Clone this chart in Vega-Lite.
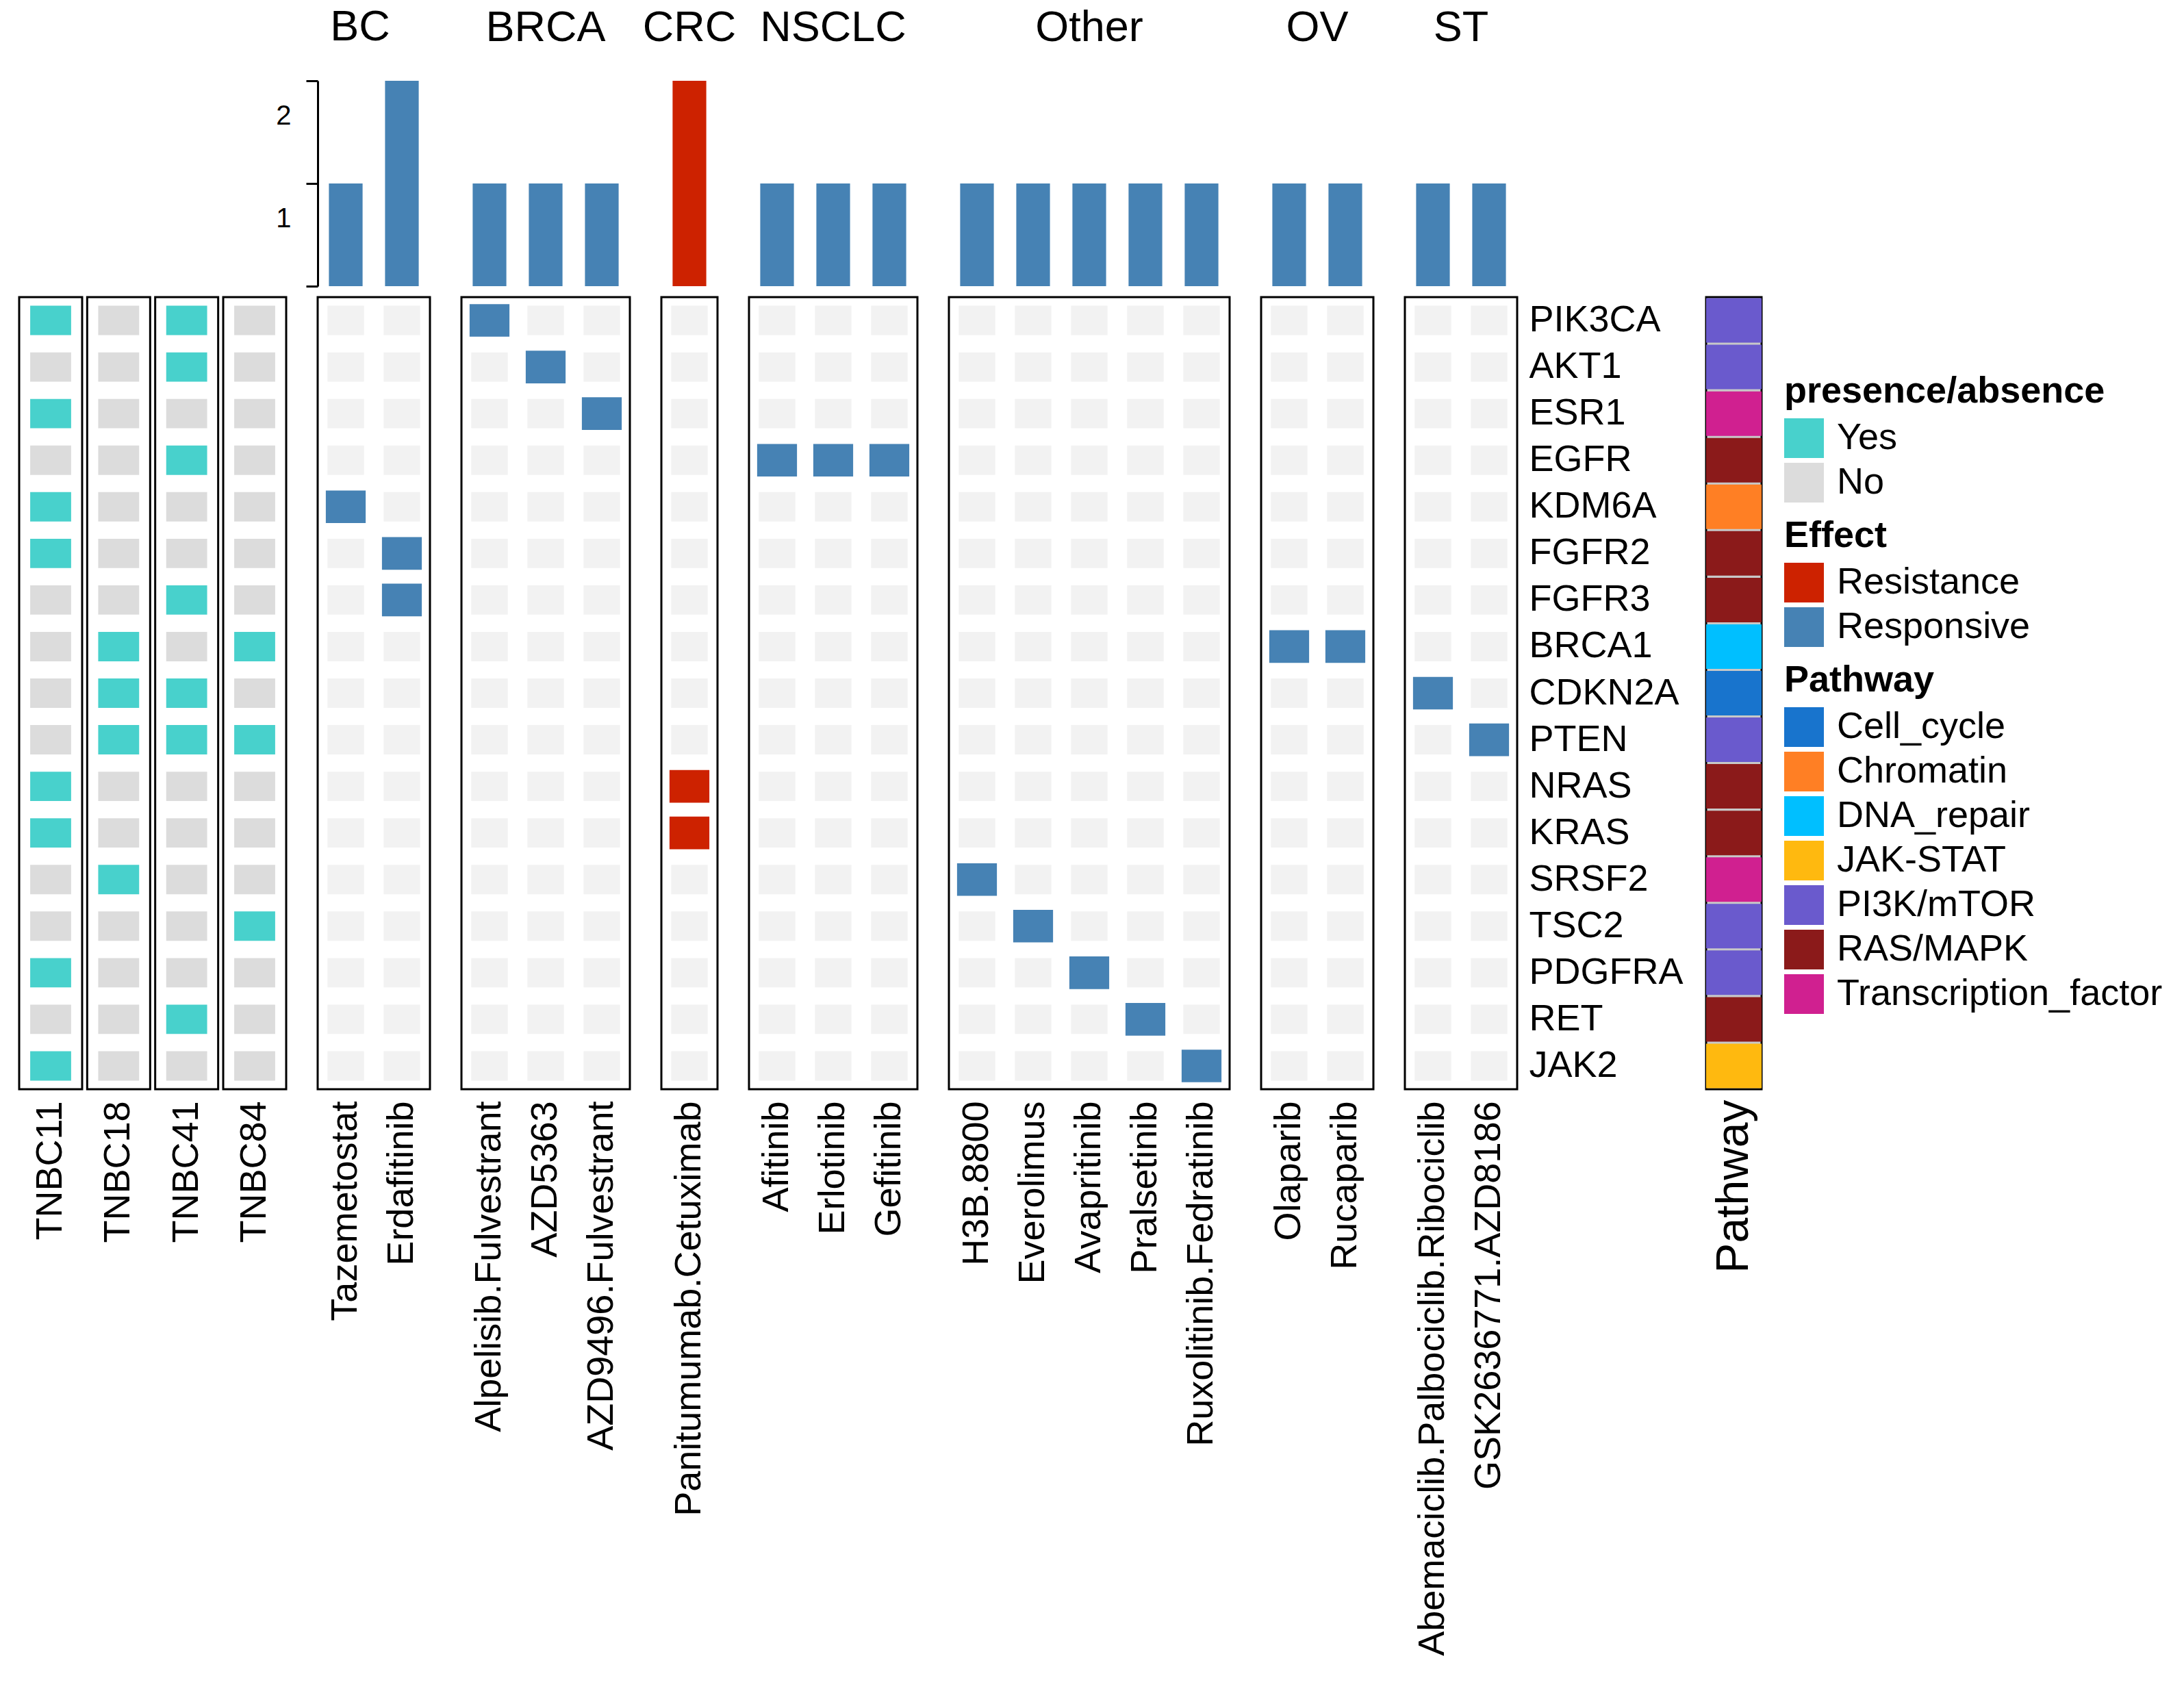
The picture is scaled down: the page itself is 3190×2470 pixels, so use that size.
{
  "$schema": "https://vega.github.io/schema/vega-lite/v6.json",
  "padding": {"left": 26, "top": 8, "right": 5, "bottom": 5},
  "background": "white",
  "datasets": {
    "matrix": [
      {"gene": "PIK3CA", "pathway": "PI3K/mTOR", "TNBC11": "Yes", "TNBC18": "No", "TNBC41": "Yes", "TNBC84": "No", "Alpelisib.Fulvestrant": "Responsive"},
      {"gene": "AKT1", "pathway": "PI3K/mTOR", "TNBC11": "No", "TNBC18": "No", "TNBC41": "Yes", "TNBC84": "No", "AZD5363": "Responsive"},
      {"gene": "ESR1", "pathway": "Transcription_factor", "TNBC11": "Yes", "TNBC18": "No", "TNBC41": "No", "TNBC84": "No", "AZD9496.Fulvestrant": "Responsive"},
      {"gene": "EGFR", "pathway": "RAS/MAPK", "TNBC11": "No", "TNBC18": "No", "TNBC41": "Yes", "TNBC84": "No", "Afitinib": "Responsive", "Erlotinib": "Responsive", "Gefitinib": "Responsive"},
      {"gene": "KDM6A", "pathway": "Chromatin", "TNBC11": "Yes", "TNBC18": "No", "TNBC41": "No", "TNBC84": "No", "Tazemetostat": "Responsive"},
      {"gene": "FGFR2", "pathway": "RAS/MAPK", "TNBC11": "Yes", "TNBC18": "No", "TNBC41": "No", "TNBC84": "No", "Erdafitinib": "Responsive"},
      {"gene": "FGFR3", "pathway": "RAS/MAPK", "TNBC11": "No", "TNBC18": "No", "TNBC41": "Yes", "TNBC84": "No", "Erdafitinib": "Responsive"},
      {"gene": "BRCA1", "pathway": "DNA_repair", "TNBC11": "No", "TNBC18": "Yes", "TNBC41": "No", "TNBC84": "Yes", "Olaparib": "Responsive", "Rucaparib": "Responsive"},
      {"gene": "CDKN2A", "pathway": "Cell_cycle", "TNBC11": "No", "TNBC18": "Yes", "TNBC41": "Yes", "TNBC84": "No", "Abemaciclib.Palbociclib.Ribociclib": "Responsive"},
      {"gene": "PTEN", "pathway": "PI3K/mTOR", "TNBC11": "No", "TNBC18": "Yes", "TNBC41": "Yes", "TNBC84": "Yes", "GSK2636771.AZD8186": "Responsive"},
      {"gene": "NRAS", "pathway": "RAS/MAPK", "TNBC11": "Yes", "TNBC18": "No", "TNBC41": "No", "TNBC84": "No", "Panitumumab.Cetuximab": "Resistance"},
      {"gene": "KRAS", "pathway": "RAS/MAPK", "TNBC11": "Yes", "TNBC18": "No", "TNBC41": "No", "TNBC84": "No", "Panitumumab.Cetuximab": "Resistance"},
      {"gene": "SRSF2", "pathway": "Transcription_factor", "TNBC11": "No", "TNBC18": "Yes", "TNBC41": "No", "TNBC84": "No", "H3B.8800": "Responsive"},
      {"gene": "TSC2", "pathway": "PI3K/mTOR", "TNBC11": "No", "TNBC18": "No", "TNBC41": "No", "TNBC84": "Yes", "Everolimus": "Responsive"},
      {"gene": "PDGFRA", "pathway": "PI3K/mTOR", "TNBC11": "Yes", "TNBC18": "No", "TNBC41": "No", "TNBC84": "No", "Avapritinib": "Responsive"},
      {"gene": "RET", "pathway": "RAS/MAPK", "TNBC11": "No", "TNBC18": "No", "TNBC41": "Yes", "TNBC84": "No", "Pralsetinib": "Responsive"},
      {"gene": "JAK2", "pathway": "JAK-STAT", "TNBC11": "Yes", "TNBC18": "No", "TNBC41": "No", "TNBC84": "No", "Ruxolitinib.Fedratinib": "Responsive"}
    ]
  },
  "columns": 10,
  "spacing": {"row": 16, "column": 46},
  "align": "each",
  "bounds": "flush",
  "resolve": {"scale": {"color": "independent"}},
  "concat": [
    {"width": 1, "height": 1, "view": {"stroke": null}, "data": {"values": []}, "mark": {"type": "point", "opacity": 0}, "encoding": {}},
    {
      "width": 164, "height": 300, "title": {"text": "BC", "dx": -20}, "view": {"stroke": null},
      "data": {"name": "matrix"},
      "transform": [{"fold": ["Tazemetostat", "Erdafitinib"], "as": ["drug", "effect"]}, {"filter": "datum.effect"}],
      "mark": {"type": "bar", "width": {"band": 0.6}},
      "encoding": {
        "x": {"field": "drug", "type": "nominal", "scale": {"domain": ["Tazemetostat", "Erdafitinib"], "paddingInner": 0, "paddingOuter": 0}, "axis": null},
        "y": {"aggregate": "count", "type": "quantitative", "scale": {"domain": [0, 2], "nice": false},
          "axis": {"title": null, "values": [0, 1, 2], "domain": true, "ticks": true, "tickSize": 17, "tickWidth": 3, "domainWidth": 3, "tickColor": "black", "domainColor": "black", "labelFontSize": 40, "labelPadding": 22, "labelOffset": 51, "labelOverlap": false, "labelFlush": false, "labelExpr": "datum.value == 0 ? '' : '' + round(datum.value)"}},
        "color": {"field": "effect", "type": "nominal", "scale": {"domain": ["Resistance", "Responsive"], "range": ["#CD2200", "#4682B4"]}, "legend": null}
      }
    },
    {
      "width": 246, "height": 300, "title": "BRCA", "view": {"stroke": null},
      "data": {"name": "matrix"},
      "transform": [{"fold": ["Alpelisib\\.Fulvestrant", "AZD5363", "AZD9496\\.Fulvestrant"], "as": ["drug", "effect"]}, {"filter": "datum.effect"}],
      "mark": {"type": "bar", "width": {"band": 0.6}},
      "encoding": {
        "x": {"field": "drug", "type": "nominal", "scale": {"domain": ["Alpelisib.Fulvestrant", "AZD5363", "AZD9496.Fulvestrant"], "paddingInner": 0, "paddingOuter": 0}, "axis": null},
        "y": {"aggregate": "count", "type": "quantitative", "scale": {"domain": [0, 2], "nice": false}, "axis": null},
        "color": {"field": "effect", "type": "nominal", "scale": {"domain": ["Resistance", "Responsive"], "range": ["#CD2200", "#4682B4"]}, "legend": null}
      }
    },
    {
      "width": 82, "height": 300, "title": "CRC", "view": {"stroke": null},
      "data": {"name": "matrix"},
      "transform": [{"fold": ["Panitumumab\\.Cetuximab"], "as": ["drug", "effect"]}, {"filter": "datum.effect"}],
      "mark": {"type": "bar", "width": {"band": 0.6}},
      "encoding": {
        "x": {"field": "drug", "type": "nominal", "scale": {"domain": ["Panitumumab.Cetuximab"], "paddingInner": 0, "paddingOuter": 0}, "axis": null},
        "y": {"aggregate": "count", "type": "quantitative", "scale": {"domain": [0, 2], "nice": false}, "axis": null},
        "color": {"field": "effect", "type": "nominal", "scale": {"domain": ["Resistance", "Responsive"], "range": ["#CD2200", "#4682B4"]}, "legend": null}
      }
    },
    {
      "width": 246, "height": 300, "title": "NSCLC", "view": {"stroke": null},
      "data": {"name": "matrix"},
      "transform": [{"fold": ["Afitinib", "Erlotinib", "Gefitinib"], "as": ["drug", "effect"]}, {"filter": "datum.effect"}],
      "mark": {"type": "bar", "width": {"band": 0.6}},
      "encoding": {
        "x": {"field": "drug", "type": "nominal", "scale": {"domain": ["Afitinib", "Erlotinib", "Gefitinib"], "paddingInner": 0, "paddingOuter": 0}, "axis": null},
        "y": {"aggregate": "count", "type": "quantitative", "scale": {"domain": [0, 2], "nice": false}, "axis": null},
        "color": {"field": "effect", "type": "nominal", "scale": {"domain": ["Resistance", "Responsive"], "range": ["#CD2200", "#4682B4"]}, "legend": null}
      }
    },
    {
      "width": 410, "height": 300, "title": "Other", "view": {"stroke": null},
      "data": {"name": "matrix"},
      "transform": [{"fold": ["H3B\\.8800", "Everolimus", "Avapritinib", "Pralsetinib", "Ruxolitinib\\.Fedratinib"], "as": ["drug", "effect"]}, {"filter": "datum.effect"}],
      "mark": {"type": "bar", "width": {"band": 0.6}},
      "encoding": {
        "x": {"field": "drug", "type": "nominal", "scale": {"domain": ["H3B.8800", "Everolimus", "Avapritinib", "Pralsetinib", "Ruxolitinib.Fedratinib"], "paddingInner": 0, "paddingOuter": 0}, "axis": null},
        "y": {"aggregate": "count", "type": "quantitative", "scale": {"domain": [0, 2], "nice": false}, "axis": null},
        "color": {"field": "effect", "type": "nominal", "scale": {"domain": ["Resistance", "Responsive"], "range": ["#CD2200", "#4682B4"]}, "legend": null}
      }
    },
    {
      "width": 164, "height": 300, "title": "OV", "view": {"stroke": null},
      "data": {"name": "matrix"},
      "transform": [{"fold": ["Olaparib", "Rucaparib"], "as": ["drug", "effect"]}, {"filter": "datum.effect"}],
      "mark": {"type": "bar", "width": {"band": 0.6}},
      "encoding": {
        "x": {"field": "drug", "type": "nominal", "scale": {"domain": ["Olaparib", "Rucaparib"], "paddingInner": 0, "paddingOuter": 0}, "axis": null},
        "y": {"aggregate": "count", "type": "quantitative", "scale": {"domain": [0, 2], "nice": false}, "axis": null},
        "color": {"field": "effect", "type": "nominal", "scale": {"domain": ["Resistance", "Responsive"], "range": ["#CD2200", "#4682B4"]}, "legend": null}
      }
    },
    {
      "width": 164, "height": 300, "title": "ST", "view": {"stroke": null},
      "data": {"name": "matrix"},
      "transform": [{"fold": ["Abemaciclib\\.Palbociclib\\.Ribociclib", "GSK2636771\\.AZD8186"], "as": ["drug", "effect"]}, {"filter": "datum.effect"}],
      "mark": {"type": "bar", "width": {"band": 0.6}},
      "encoding": {
        "x": {"field": "drug", "type": "nominal", "scale": {"domain": ["Abemaciclib.Palbociclib.Ribociclib", "GSK2636771.AZD8186"], "paddingInner": 0, "paddingOuter": 0}, "axis": null},
        "y": {"aggregate": "count", "type": "quantitative", "scale": {"domain": [0, 2], "nice": false}, "axis": null},
        "color": {"field": "effect", "type": "nominal", "scale": {"domain": ["Resistance", "Responsive"], "range": ["#CD2200", "#4682B4"]}, "legend": null}
      }
    },
    {"width": 184, "height": 1, "view": {"stroke": null}, "data": {"values": []}, "mark": {"type": "point", "opacity": 0}, "encoding": {}},
    {"width": 1, "height": 1, "view": {"stroke": null}, "data": {"values": []}, "mark": {"type": "point", "opacity": 0}, "encoding": {}},

    {
      "width": 390, "height": 1157, "view": {"stroke": null},
      "data": {"name": "matrix"},
      "transform": [{"fold": ["TNBC11", "TNBC18", "TNBC41", "TNBC84"], "as": ["sample", "presence"]}],
      "encoding": {
        "x": {"field": "sample", "type": "nominal", "scale": {"domain": ["TNBC11", "TNBC18", "TNBC41", "TNBC84"], "paddingInner": 0.074, "paddingOuter": 0}, "axis": {"title": null}}
      },
      "layer": [
        {
          "mark": {"type": "rect", "width": {"band": 0.65}, "height": {"band": 0.63}},
          "encoding": {
            "y": {"field": "gene", "type": "nominal", "scale": {"domain": ["PIK3CA", "AKT1", "ESR1", "EGFR", "KDM6A", "FGFR2", "FGFR3", "BRCA1", "CDKN2A", "PTEN", "NRAS", "KRAS", "SRSF2", "TSC2", "PDGFRA", "RET", "JAK2"], "paddingInner": 0, "paddingOuter": 0}, "axis": null},
            "color": {"field": "presence", "type": "nominal", "scale": {"domain": ["Yes", "No"], "range": ["#48D1CC", "#DCDCDC"]}, "legend": null}
          }
        },
        {
          "transform": [{"aggregate": [{"op": "count", "as": "n"}], "groupby": ["sample"]}],
          "mark": {"type": "rect", "filled": false, "stroke": "black", "strokeWidth": 3}
        }
      ]
    },
    {
      "width": 164, "height": 1157,
      "data": {"name": "matrix"},
      "transform": [{"fold": ["Tazemetostat", "Erdafitinib"], "as": ["drug", "effect"]}],
      "encoding": {
        "x": {"field": "drug", "type": "nominal", "scale": {"domain": ["Tazemetostat", "Erdafitinib"], "paddingInner": 0, "paddingOuter": 0}, "axis": {"title": null}},
        "y": {"field": "gene", "type": "nominal", "scale": {"domain": ["PIK3CA", "AKT1", "ESR1", "EGFR", "KDM6A", "FGFR2", "FGFR3", "BRCA1", "CDKN2A", "PTEN", "NRAS", "KRAS", "SRSF2", "TSC2", "PDGFRA", "RET", "JAK2"], "paddingInner": 0, "paddingOuter": 0}, "axis": null}
      },
      "layer": [
        {"mark": {"type": "rect", "width": {"band": 0.65}, "height": {"band": 0.63}, "color": "#F2F2F2"}},
        {"transform": [{"filter": "datum.effect"}], "mark": {"type": "rect", "width": {"band": 0.71}, "height": {"band": 0.7}},
          "encoding": {"color": {"field": "effect", "type": "nominal", "scale": {"domain": ["Resistance", "Responsive"], "range": ["#CD2200", "#4682B4"]}, "legend": null}}}
      ]
    },
    {
      "width": 246, "height": 1157,
      "data": {"name": "matrix"},
      "transform": [{"fold": ["Alpelisib\\.Fulvestrant", "AZD5363", "AZD9496\\.Fulvestrant"], "as": ["drug", "effect"]}],
      "encoding": {
        "x": {"field": "drug", "type": "nominal", "scale": {"domain": ["Alpelisib.Fulvestrant", "AZD5363", "AZD9496.Fulvestrant"], "paddingInner": 0, "paddingOuter": 0}, "axis": {"title": null}},
        "y": {"field": "gene", "type": "nominal", "scale": {"domain": ["PIK3CA", "AKT1", "ESR1", "EGFR", "KDM6A", "FGFR2", "FGFR3", "BRCA1", "CDKN2A", "PTEN", "NRAS", "KRAS", "SRSF2", "TSC2", "PDGFRA", "RET", "JAK2"], "paddingInner": 0, "paddingOuter": 0}, "axis": null}
      },
      "layer": [
        {"mark": {"type": "rect", "width": {"band": 0.65}, "height": {"band": 0.63}, "color": "#F2F2F2"}},
        {"transform": [{"filter": "datum.effect"}], "mark": {"type": "rect", "width": {"band": 0.71}, "height": {"band": 0.7}},
          "encoding": {"color": {"field": "effect", "type": "nominal", "scale": {"domain": ["Resistance", "Responsive"], "range": ["#CD2200", "#4682B4"]}, "legend": null}}}
      ]
    },
    {
      "width": 82, "height": 1157,
      "data": {"name": "matrix"},
      "transform": [{"fold": ["Panitumumab\\.Cetuximab"], "as": ["drug", "effect"]}],
      "encoding": {
        "x": {"field": "drug", "type": "nominal", "scale": {"domain": ["Panitumumab.Cetuximab"], "paddingInner": 0, "paddingOuter": 0}, "axis": {"title": null}},
        "y": {"field": "gene", "type": "nominal", "scale": {"domain": ["PIK3CA", "AKT1", "ESR1", "EGFR", "KDM6A", "FGFR2", "FGFR3", "BRCA1", "CDKN2A", "PTEN", "NRAS", "KRAS", "SRSF2", "TSC2", "PDGFRA", "RET", "JAK2"], "paddingInner": 0, "paddingOuter": 0}, "axis": null}
      },
      "layer": [
        {"mark": {"type": "rect", "width": {"band": 0.65}, "height": {"band": 0.63}, "color": "#F2F2F2"}},
        {"transform": [{"filter": "datum.effect"}], "mark": {"type": "rect", "width": {"band": 0.71}, "height": {"band": 0.7}},
          "encoding": {"color": {"field": "effect", "type": "nominal", "scale": {"domain": ["Resistance", "Responsive"], "range": ["#CD2200", "#4682B4"]}, "legend": null}}}
      ]
    },
    {
      "width": 246, "height": 1157,
      "data": {"name": "matrix"},
      "transform": [{"fold": ["Afitinib", "Erlotinib", "Gefitinib"], "as": ["drug", "effect"]}],
      "encoding": {
        "x": {"field": "drug", "type": "nominal", "scale": {"domain": ["Afitinib", "Erlotinib", "Gefitinib"], "paddingInner": 0, "paddingOuter": 0}, "axis": {"title": null}},
        "y": {"field": "gene", "type": "nominal", "scale": {"domain": ["PIK3CA", "AKT1", "ESR1", "EGFR", "KDM6A", "FGFR2", "FGFR3", "BRCA1", "CDKN2A", "PTEN", "NRAS", "KRAS", "SRSF2", "TSC2", "PDGFRA", "RET", "JAK2"], "paddingInner": 0, "paddingOuter": 0}, "axis": null}
      },
      "layer": [
        {"mark": {"type": "rect", "width": {"band": 0.65}, "height": {"band": 0.63}, "color": "#F2F2F2"}},
        {"transform": [{"filter": "datum.effect"}], "mark": {"type": "rect", "width": {"band": 0.71}, "height": {"band": 0.7}},
          "encoding": {"color": {"field": "effect", "type": "nominal", "scale": {"domain": ["Resistance", "Responsive"], "range": ["#CD2200", "#4682B4"]}, "legend": null}}}
      ]
    },
    {
      "width": 410, "height": 1157,
      "data": {"name": "matrix"},
      "transform": [{"fold": ["H3B\\.8800", "Everolimus", "Avapritinib", "Pralsetinib", "Ruxolitinib\\.Fedratinib"], "as": ["drug", "effect"]}],
      "encoding": {
        "x": {"field": "drug", "type": "nominal", "scale": {"domain": ["H3B.8800", "Everolimus", "Avapritinib", "Pralsetinib", "Ruxolitinib.Fedratinib"], "paddingInner": 0, "paddingOuter": 0}, "axis": {"title": null}},
        "y": {"field": "gene", "type": "nominal", "scale": {"domain": ["PIK3CA", "AKT1", "ESR1", "EGFR", "KDM6A", "FGFR2", "FGFR3", "BRCA1", "CDKN2A", "PTEN", "NRAS", "KRAS", "SRSF2", "TSC2", "PDGFRA", "RET", "JAK2"], "paddingInner": 0, "paddingOuter": 0}, "axis": null}
      },
      "layer": [
        {"mark": {"type": "rect", "width": {"band": 0.65}, "height": {"band": 0.63}, "color": "#F2F2F2"}},
        {"transform": [{"filter": "datum.effect"}], "mark": {"type": "rect", "width": {"band": 0.71}, "height": {"band": 0.7}},
          "encoding": {"color": {"field": "effect", "type": "nominal", "scale": {"domain": ["Resistance", "Responsive"], "range": ["#CD2200", "#4682B4"]}, "legend": null}}}
      ]
    },
    {
      "width": 164, "height": 1157,
      "data": {"name": "matrix"},
      "transform": [{"fold": ["Olaparib", "Rucaparib"], "as": ["drug", "effect"]}],
      "encoding": {
        "x": {"field": "drug", "type": "nominal", "scale": {"domain": ["Olaparib", "Rucaparib"], "paddingInner": 0, "paddingOuter": 0}, "axis": {"title": null}},
        "y": {"field": "gene", "type": "nominal", "scale": {"domain": ["PIK3CA", "AKT1", "ESR1", "EGFR", "KDM6A", "FGFR2", "FGFR3", "BRCA1", "CDKN2A", "PTEN", "NRAS", "KRAS", "SRSF2", "TSC2", "PDGFRA", "RET", "JAK2"], "paddingInner": 0, "paddingOuter": 0}, "axis": null}
      },
      "layer": [
        {"mark": {"type": "rect", "width": {"band": 0.65}, "height": {"band": 0.63}, "color": "#F2F2F2"}},
        {"transform": [{"filter": "datum.effect"}], "mark": {"type": "rect", "width": {"band": 0.71}, "height": {"band": 0.7}},
          "encoding": {"color": {"field": "effect", "type": "nominal", "scale": {"domain": ["Resistance", "Responsive"], "range": ["#CD2200", "#4682B4"]}, "legend": null}}}
      ]
    },
    {
      "width": 164, "height": 1157,
      "data": {"name": "matrix"},
      "transform": [{"fold": ["Abemaciclib\\.Palbociclib\\.Ribociclib", "GSK2636771\\.AZD8186"], "as": ["drug", "effect"]}],
      "encoding": {
        "x": {"field": "drug", "type": "nominal", "scale": {"domain": ["Abemaciclib.Palbociclib.Ribociclib", "GSK2636771.AZD8186"], "paddingInner": 0, "paddingOuter": 0}, "axis": {"title": null}},
        "y": {"field": "gene", "type": "nominal", "scale": {"domain": ["PIK3CA", "AKT1", "ESR1", "EGFR", "KDM6A", "FGFR2", "FGFR3", "BRCA1", "CDKN2A", "PTEN", "NRAS", "KRAS", "SRSF2", "TSC2", "PDGFRA", "RET", "JAK2"], "paddingInner": 0, "paddingOuter": 0}, "axis": {"title": null, "orient": "right"}}
      },
      "layer": [
        {"mark": {"type": "rect", "width": {"band": 0.65}, "height": {"band": 0.63}, "color": "#F2F2F2"}},
        {"transform": [{"filter": "datum.effect"}], "mark": {"type": "rect", "width": {"band": 0.71}, "height": {"band": 0.7}},
          "encoding": {"color": {"field": "effect", "type": "nominal", "scale": {"domain": ["Resistance", "Responsive"], "range": ["#CD2200", "#4682B4"]}, "legend": null}}}
      ]
    },
    {"width": 1, "height": 1, "view": {"stroke": null}, "data": {"values": []}, "mark": {"type": "point", "opacity": 0}, "encoding": {}},
    {
      "width": 81, "height": 1157,
      "view": {"fill": "#C8C8C8", "stroke": "black", "strokeWidth": 3},
      "resolve": {"scale": {"color": "independent"}},
      "layer": [
        {
          "data": {"values": []},
          "mark": "rect",
          "encoding": {"color": {"field": "presence", "type": "nominal", "scale": {"domain": ["Yes", "No"], "range": ["#48D1CC", "#DCDCDC"]}, "legend": {"title": "presence/absence"}}}
        },
        {
          "data": {"values": []},
          "mark": "rect",
          "encoding": {"color": {"field": "effect", "type": "nominal", "scale": {"domain": ["Resistance", "Responsive"], "range": ["#CD2200", "#4682B4"]}, "legend": {"title": "Effect"}}}
        },
        {
          "data": {"name": "matrix"},
          "mark": {"type": "rect", "height": {"band": 0.955}},
          "encoding": {
            "x": {"datum": "Pathway", "type": "nominal", "scale": {"paddingInner": 0, "paddingOuter": 0}, "axis": {"title": null, "labelFontSize": 66, "labelPadding": 15}},
            "y": {"field": "gene", "type": "nominal", "scale": {"domain": ["PIK3CA", "AKT1", "ESR1", "EGFR", "KDM6A", "FGFR2", "FGFR3", "BRCA1", "CDKN2A", "PTEN", "NRAS", "KRAS", "SRSF2", "TSC2", "PDGFRA", "RET", "JAK2"], "paddingInner": 0, "paddingOuter": 0}, "axis": null},
            "color": {"field": "pathway", "type": "nominal",
              "scale": {"domain": ["Cell_cycle", "Chromatin", "DNA_repair", "JAK-STAT", "PI3K/mTOR", "RAS/MAPK", "Transcription_factor"],
                        "range": ["#1874CD", "#FF7F24", "#00BFFF", "#FFB90F", "#6A5ACD", "#8B1A1A", "#D02090"]},
              "legend": {"title": "Pathway"}}
          }
        }
      ]
    }
  ],
  "config": {
    "font": "Liberation Sans",
    "view": {"stroke": "black", "strokeWidth": 3},
    "title": {"fontSize": 63, "fontWeight": "normal", "color": "black", "offset": 45, "anchor": "middle", "font": "Liberation Sans"},
    "axis": {"domain": false, "ticks": false, "tickSize": 0, "grid": false, "labelFontSize": 54, "labelColor": "black", "labelPadding": 17, "labelLimit": 0, "labelFont": "Liberation Sans"},
    "axisX": {"labelAngle": -90},
    "legend": {
      "symbolType": "square", "symbolSize": 3364, "symbolStrokeWidth": 0,
      "labelFontSize": 54, "labelColor": "black", "labelFont": "Liberation Sans", "labelOffset": 19,
      "titleFontSize": 54, "titleFontWeight": "bold", "titleColor": "black", "titleFont": "Liberation Sans",
      "titlePadding": 12, "rowPadding": 7, "offset": 33, "labelLimit": 0, "titleLimit": 0,
      "layout": {"right": {"anchor": "middle", "direction": "vertical", "margin": 22}}
    }
  }
}
